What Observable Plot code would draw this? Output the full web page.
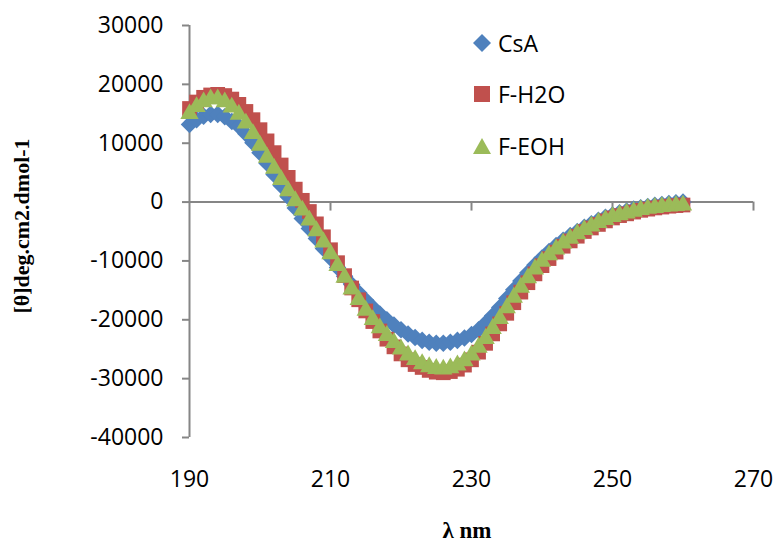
<!DOCTYPE html>
<html>
<head>
<meta charset="utf-8">
<script src="https://cdn.jsdelivr.net/npm/d3@7"></script>
<script src="https://cdn.jsdelivr.net/npm/@observablehq/plot@0.6"></script>
<style>
  body { margin: 0; background: #fff; }
  #wrap { position: relative; width: 776px; height: 545px; font-family: "Open Sans", sans-serif; }
  #wrap svg.plot { position: absolute; left: 0; top: 0; }
  .ytitle { position: absolute; left: 22px; top: 226px; transform: translate(-50%, -50%) rotate(-90deg);
            font: bold 22px "Liberation Serif", serif; white-space: nowrap; color: #000; }
  .xtitle { position: absolute; left: 467px; top: 531px; transform: translate(-50%, -50%);
            font: bold 23px "Liberation Serif", serif; white-space: nowrap; color: #000; }
  .leg { position: absolute; left: 472px; display: flex; align-items: center; transform: translateY(-50%);
         font: 23px "Open Sans", sans-serif; color: #000; }
  .leg svg { width: 20px; height: 20px; margin-right: 6px; }
</style>
</head>
<body>
<div id="wrap"></div>
<script>
// ---- data ----
const wavelength = d3.range(190, 261); // nm, 1 nm steps, 190..260

const csa = [13200, 14000, 14600, 14900, 14900, 14500, 13700, 12900, 11600, 10100,
             8400, 6600, 4700, 2800, 900, -1000, -2800, -4500, -6200, -7900,
             -9500, -11100, -12600, -14000, -15400, -16700, -17900, -19000, -20000, -20900,
             -21700, -22400, -23000, -23500, -23800, -24000, -24000, -23800, -23500, -23100,
             -22500, -21700, -20600, -19300, -17900, -16400, -14900, -13400, -12000, -10700,
             -9500, -8400, -7400, -6500, -5700, -5000, -4300, -3700, -3100, -2600,
             -2200, -1800, -1500, -1200, -950, -750, -550, -400, -250, -100,
             0];

const fH2O = [15900, 17000, 17800, 18200, 18300, 18100, 17500, 16600, 15400, 14000,
              12300, 10400, 8400, 6300, 4200, 2200, 300, -1600, -3700, -5900,
              -8100, -10300, -12500, -14600, -16600, -18500, -20300, -21900, -23300, -24600,
              -25800, -26800, -27600, -28100, -28600, -28900, -29000, -28800, -28400, -27700,
              -26800, -25500, -24000, -22400, -20700, -18900, -17100, -15300, -13700, -12200,
              -10800, -9600, -8500, -7500, -6600, -5800, -5000, -4400, -3800, -3200,
              -2700, -2300, -2000, -1700, -1400, -1200, -1000, -850, -700, -600,
              -500];

const fEOH = [15000, 16200, 17000, 17500, 17500, 17000, 16100, 14900, 13400, 11600,
              9600, 7600, 5700, 3800, 1900, 200, -1400, -3100, -4900, -6800,
              -8800, -10800, -12800, -14800, -16600, -18400, -20000, -21400, -22700, -23900,
              -25000, -26000, -26800, -27500, -28000, -28300, -28400, -28200, -27700, -27000,
              -26000, -24700, -23200, -21500, -19800, -18000, -16200, -14500, -12900, -11400,
              -10100, -9000, -8000, -7000, -6200, -5400, -4700, -4100, -3500, -3000,
              -2500, -2200, -1900, -1600, -1300, -1100, -950, -800, -700, -600,
              -550];

const seriesNames = ["CsA", "F-H2O", "F-EOH"];
const seriesColors = ["#4F81BD", "#C0504D", "#9BBB59"];
const xTicks = [190, 210, 230, 250, 270];
const yTicks = [-40000, -30000, -20000, -10000, 0, 10000, 20000, 30000];

// ---- symbols ----
const diamond = { draw(ctx, size) { const h = Math.sqrt(size / 2);
  ctx.moveTo(0, -h); ctx.lineTo(h, 0); ctx.lineTo(0, h); ctx.lineTo(-h, 0); ctx.closePath(); } };
const square = { draw(ctx, size) { const s = Math.sqrt(size) / 2;
  ctx.moveTo(-s, -s); ctx.lineTo(s, -s); ctx.lineTo(s, s); ctx.lineTo(-s, s); ctx.closePath(); } };
const triangle = { draw(ctx, size) { const w = Math.sqrt(size * 4 / Math.sqrt(3)) / 2; const h = w * Math.sqrt(3);
  ctx.moveTo(0, -h * 2 / 3); ctx.lineTo(w, h / 3); ctx.lineTo(-w, h / 3); ctx.closePath(); } };
const symbols = [diamond, square, triangle];
const radii = [7.0, 8.3, 6.8];

const rows = (vals) => wavelength.map((w, i) => ({ x: w, y: vals[i] }));
const allSeries = [csa, fH2O, fEOH];

const axisGrey = "#868686";

const plot = Plot.plot({
  width: 776,
  height: 545,
  marginLeft: 189,
  marginRight: 23,
  marginTop: 25,
  marginBottom: 108,
  style: { fontFamily: "Open Sans, sans-serif", fontSize: "23px", color: "#000", background: "#fff", overflow: "visible" },
  x: { domain: [190, 270] },
  y: { domain: [-40000, 30000] },
  marks: [
    Plot.axisY({ ticks: yTicks, tickSize: 7, tickPadding: 19, tickFormat: d => String(d),
                 stroke: axisGrey, strokeWidth: 2, fill: "#000", label: null }),
    Plot.axisX({ ticks: xTicks, tickSize: 0, tickPadding: 33, tickFormat: d => String(d),
                 anchor: "bottom", fill: "#000", label: null }),
    Plot.ruleX([190], { stroke: axisGrey, strokeWidth: 2 }),
    Plot.ruleY([0], { stroke: axisGrey, strokeWidth: 2 }),
    Plot.ruleX(xTicks.slice(1), { x: d => d, y1: 0, y2: 0, insetTop: 0, insetBottom: -9, stroke: axisGrey, strokeWidth: 2 }),
    ...allSeries.map((vals, k) => Plot.dot(rows(vals), {
      x: "x", y: "y", symbol: symbols[k], r: radii[k], fill: seriesColors[k], stroke: "none"
    }))
  ]
});
plot.classList.add("plot");
const wrap = document.getElementById("wrap");
wrap.appendChild(plot);

// axis titles
const yt = document.createElement("div"); yt.className = "ytitle"; yt.textContent = "[θ]deg.cm2.dmol-1"; wrap.appendChild(yt);
const xt = document.createElement("div"); xt.className = "xtitle"; xt.textContent = "λ nm"; wrap.appendChild(xt);

// legend
const legTops = [43, 94, 146];
const legPaths = [
  "M10 1 L19 10 L10 19 L1 10 Z",
  "M2 2 L18 2 L18 18 L2 18 Z",
  "M10 2 L19 18 L1 18 Z"
];
seriesNames.forEach((name, k) => {
  const d = document.createElement("div");
  d.className = "leg";
  d.style.top = legTops[k] + "px";
  d.innerHTML = `<svg viewBox="0 0 20 20"><path d="${legPaths[k]}" fill="${seriesColors[k]}"/></svg><span>${name}</span>`;
  wrap.appendChild(d);
});
</script>
</body>
</html>
